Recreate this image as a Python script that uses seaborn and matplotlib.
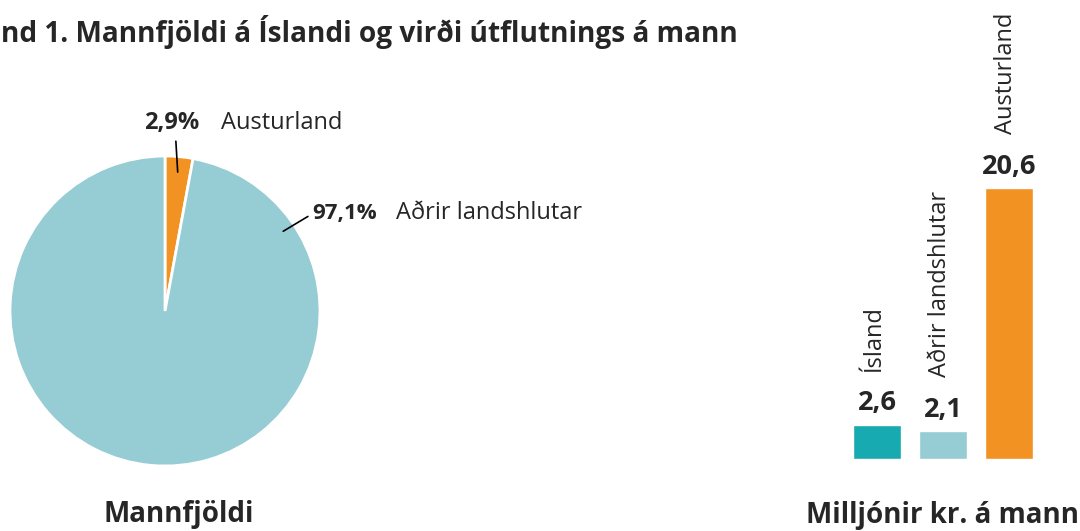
import numpy as np
import pandas as pd
import seaborn as sns
import matplotlib.pyplot as plt

# ---- data ----
pie_labels = ["Austurland", "Aðrir landshlutar"]
pie_values = [2.9, 97.1]
pie_text = ["2,9%", "97,1%"]

bar_labels = ["Ísland", "Aðrir landshlutar", "Austurland"]
bar_values = [2.6, 2.1, 20.6]
bar_text = ["2,6", "2,1", "20,6"]

# title is cropped on the left in the source picture
title = "nd 1. Mannfjöldi á Íslandi og virði útflutnings á mann"
pie_caption = "Mannfjöldi"
bar_caption = "Milljónir kr. á mann"

orange = "#F29222"
light = "#96CCD4"
teal = "#17AAB0"

sns.set_theme(style="white")
plt.rcParams['font.family'] = ['Open Sans', 'DejaVu Sans']

W, H = 1080, 531
fig = plt.figure(figsize=(W / 100, H / 100), dpi=100)

# ---- pie ----
cx, cy, r = 165, 311, 155
ax1 = fig.add_axes([(cx - r) / W, 1 - (cy + r) / H, 2 * r / W, 2 * r / H])
ax1.pie(pie_values, colors=[orange, light], startangle=90, counterclock=False,
        wedgeprops=dict(edgecolor="white", linewidth=2))
ax1.set_xlim(-1, 1)
ax1.set_ylim(-1, 1)
ax1.set_aspect("equal")
ax1.axis("off")

# Austurland label (top)
ang = np.deg2rad(90 - pie_values[0] / 100 * 360 / 2)
ax1.plot([0.9 * np.cos(ang), 1.1 * np.cos(ang) - 0.03],
         [0.9 * np.sin(ang), 1.1 * np.sin(ang)], color="black", lw=1.2, clip_on=False)
ax1.text(0.22, 1.215, pie_text[0], ha="right", va="center", fontsize=17,
         fontweight="bold", clip_on=False)
ax1.text(0.36, 1.215, pie_labels[0], ha="left", va="center", fontsize=17, clip_on=False)

# Aðrir landshlutar label
ang2 = np.deg2rad(34)
ax1.plot([0.92 * np.cos(ang2), 1.1 * np.cos(ang2) + 0.01],
         [0.92 * np.sin(ang2), 0.61], color="black", lw=1.2, clip_on=False)
ax1.text(1.37, 0.63, pie_text[1], ha="right", va="center", fontsize=16,
         fontweight="bold", clip_on=False)
ax1.text(1.49, 0.63, pie_labels[1], ha="left", va="center", fontsize=17, clip_on=False)

ax1.text(0.09, -1.31, pie_caption, ha="center", va="center", fontsize=20,
         fontweight="bold", clip_on=False)

# ---- bars ----
base = 459
ppu = 13.15
ymax = 34
ax2 = fig.add_axes([844 / W, 1 - base / H, 198 / W, ymax * ppu / H])
df = pd.DataFrame({"cat": bar_labels, "val": bar_values})
sns.barplot(data=df, x="cat", y="val", hue="cat", palette=[teal, light, orange],
            width=0.727, legend=False, ax=ax2, saturation=1)
ax2.set_ylim(0, ymax)
ax2.set_xlim(-0.5, 2.5)
ax2.axis("off")

for i, v in enumerate(bar_values):
    ax2.annotate(bar_text[i], (i, v), xytext=(0, 6), textcoords="offset points",
                 ha="center", va="bottom", fontsize=19.5, fontweight="bold")
    ax2.annotate(bar_labels[i], (i, v), xytext=(-2, 39), textcoords="offset points",
                 ha="center", va="bottom", rotation=90, fontsize=17)

fig.text(943 / W, 1 - 515 / H, bar_caption, ha="center", va="center",
         fontsize=20, fontweight="bold")

fig.text(1 / W, 1 - 32 / H, title, ha="left", va="center", fontsize=20.2,
         fontweight="bold")

fig.savefig("out.png", dpi=100)
